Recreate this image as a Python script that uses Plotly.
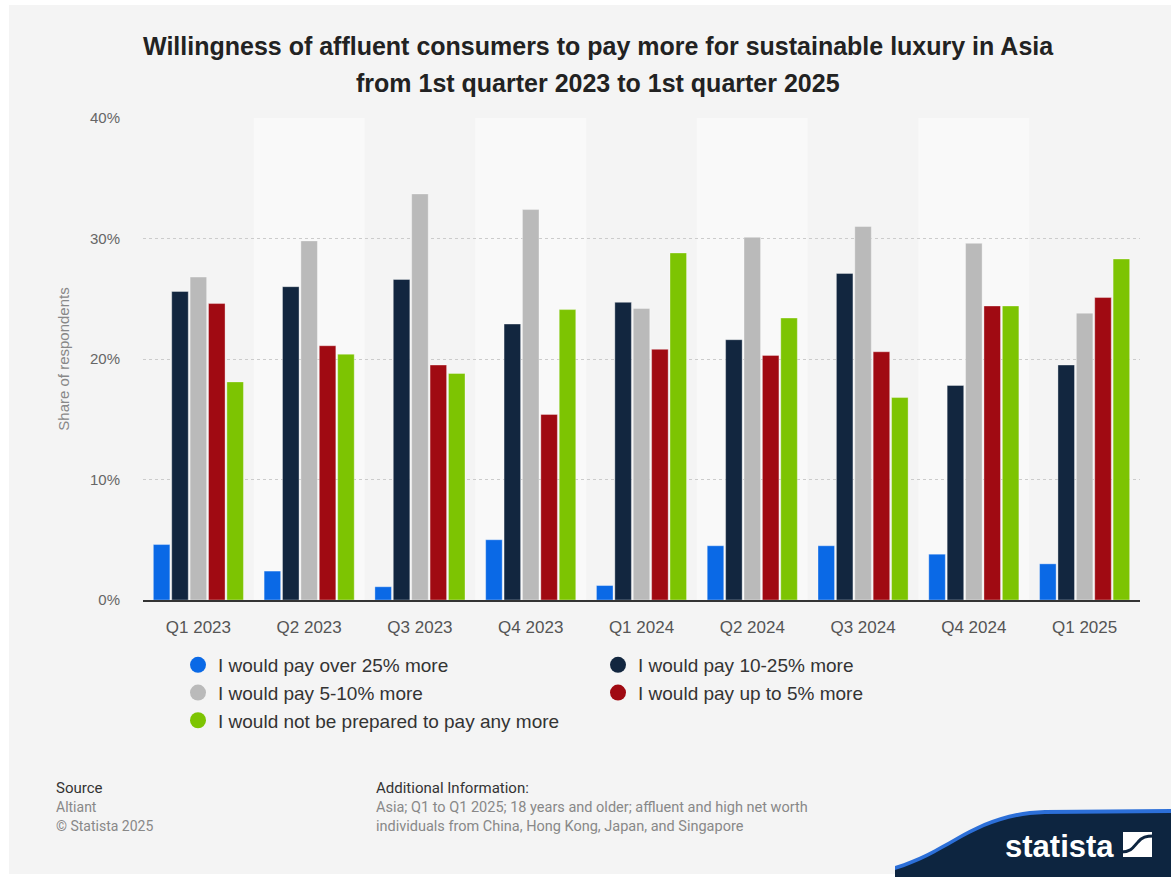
import plotly.graph_objects as go

categories = ["Q1 2023", "Q2 2023", "Q3 2023", "Q4 2023", "Q1 2024",
              "Q2 2024", "Q3 2024", "Q4 2024", "Q1 2025"]
series_names = ["I would pay over 25% more", "I would pay 10-25% more",
                "I would pay 5-10% more", "I would pay up to 5% more",
                "I would not be prepared to pay any more"]
over_25 = [4.6, 2.4, 1.1, 5.0, 1.2, 4.5, 4.5, 3.8, 3.0]
pay_10_25 = [25.6, 26.0, 26.6, 22.9, 24.7, 21.6, 27.1, 17.8, 19.5]
pay_5_10 = [26.8, 29.8, 33.7, 32.4, 24.2, 30.1, 31.0, 29.6, 23.8]
up_to_5 = [24.6, 21.1, 19.5, 15.4, 20.8, 20.3, 20.6, 24.4, 25.1]
no_more = [18.1, 20.4, 18.8, 24.1, 28.8, 23.4, 16.8, 24.4, 28.3]
colors = ["#0a69e6", "#12263f", "#bababa", "#a00a12", "#7dc402"]
y_ticks = [0, 10, 20, 30, 40]
y_tick_labels = ["0%", "10%", "20%", "30%", "40%"]

W, H = 1171, 877
L, R, T, B = 143, 1140, 118, 600


def px(x):
    return (x - L) / (R - L)


def py(y):
    return (B - y) / (B - T)


fig = go.Figure()
for name, vals, col in zip(series_names,
                           [over_25, pay_10_25, pay_5_10, up_to_5, no_more],
                           colors):
    fig.add_trace(go.Bar(x=categories, y=vals, name=name, marker_color=col,
                         marker_line=dict(color="rgba(255,255,255,0.35)", width=1),
                         showlegend=False))
for name, col in zip(series_names, colors):
    fig.add_trace(go.Scatter(x=[None], y=[None], mode="markers", name=name,
                             marker=dict(color=col, size=16, symbol="circle")))

shapes = []
# white frame + gray background
shapes.append(dict(type="rect", xref="paper", yref="paper", layer="below",
                   x0=px(9), x1=px(W), y0=py(874), y1=py(5),
                   fillcolor="#f4f4f4", line_width=0))
# alternating bands
for i in range(len(categories)):
    if i % 2 == 1:
        shapes.append(dict(type="rect", xref="x", yref="paper", layer="below",
                           x0=i - 0.5, x1=i + 0.5, y0=0, y1=1,
                           fillcolor="#f9f9f9", line_width=0))


def curve(offset):
    return (f"M {px(895)},{py(880)} L {px(895)},{py(866 + offset)} "
            f"C {px(950)},{py(850 + offset)} {px(975)},{py(812 + offset)} {px(1045)},{py(810 + offset)} "
            f"L {px(1175)},{py(809 + offset)} L {px(1175)},{py(880)} Z")


shapes.append(dict(type="path", xref="paper", yref="paper", layer="above",
                   path=curve(0), fillcolor="#2c6fd8", line_width=0))
shapes.append(dict(type="path", xref="paper", yref="paper", layer="above",
                   path=curve(4), fillcolor="#0d2540", line_width=0))
# statista icon
shapes.append(dict(type="rect", xref="paper", yref="paper", layer="above",
                   x0=px(1123), x1=px(1152), y0=py(857), y1=py(832),
                   fillcolor="#ffffff", line_width=0))
shapes.append(dict(type="path", xref="paper", yref="paper", layer="above",
                   path=(f"M {px(1121)},{py(852)} C {px(1132)},{py(852)} {px(1134)},{py(846)} {px(1138)},{py(842)} "
                         f"C {px(1142)},{py(837)} {px(1146)},{py(836)} {px(1154)},{py(836)}"),
                   line=dict(color="#0d2540", width=3)))

annotations = [
    dict(text="<b>Willingness of affluent consumers to pay more for sustainable luxury in Asia</b>",
         x=px(598), y=py(46), xref="paper", yref="paper", showarrow=False,
         font=dict(size=25, color="#222222", family="Liberation Sans"),
         xanchor="center", yanchor="middle"),
    dict(text="<b>from 1st quarter 2023 to 1st quarter 2025</b>",
         x=px(598), y=py(83), xref="paper", yref="paper", showarrow=False,
         font=dict(size=25, color="#222222", family="Liberation Sans"),
         xanchor="center", yanchor="middle"),
    dict(text="Source", x=px(54), y=py(788), xref="paper", yref="paper",
         showarrow=False, xanchor="left", yanchor="middle",
         font=dict(size=15, color="#333333", family="Roboto")),
    dict(text="Altiant", x=px(54), y=py(807), xref="paper", yref="paper",
         showarrow=False, xanchor="left", yanchor="middle",
         font=dict(size=14, color="#888888", family="Roboto")),
    dict(text="© Statista 2025", x=px(54), y=py(826), xref="paper", yref="paper",
         showarrow=False, xanchor="left", yanchor="middle",
         font=dict(size=14, color="#888888", family="Roboto")),
    dict(text="Additional Information:", x=px(374), y=py(788), xref="paper", yref="paper",
         showarrow=False, xanchor="left", yanchor="middle",
         font=dict(size=15, color="#333333", family="Roboto")),
    dict(text="Asia; Q1 to Q1 2025; 18 years and older; affluent and high net worth",
         x=px(374), y=py(807), xref="paper", yref="paper",
         showarrow=False, xanchor="left", yanchor="middle",
         font=dict(size=14.5, color="#888888", family="Roboto")),
    dict(text="individuals from China, Hong Kong, Japan, and Singapore",
         x=px(374), y=py(826), xref="paper", yref="paper",
         showarrow=False, xanchor="left", yanchor="middle",
         font=dict(size=14.5, color="#888888", family="Roboto")),
    dict(text="<b>statista</b>", x=px(1059), y=py(846), xref="paper", yref="paper",
         showarrow=False, xanchor="center", yanchor="middle",
         font=dict(size=31, color="#ffffff", family="Liberation Sans")),
]

fig.update_layout(
    width=W, height=H,
    margin=dict(l=L, r=W - R, t=T, b=H - B, pad=0, autoexpand=False),
    paper_bgcolor="#ffffff", plot_bgcolor="rgba(0,0,0,0)",
    barmode="group", bargap=0.17, bargroupgap=0.1,
    font=dict(family="Liberation Sans", color="#666666"),
    shapes=shapes, annotations=annotations,
    legend=dict(orientation="h", xref="container", yref="container",
                x=178 / W, y=1 - 646 / H, xanchor="left", yanchor="top",
                entrywidth=375, entrywidthmode="pixels", itemwidth=30,
                font=dict(size=19, color="#333333", family="Liberation Sans"),
                bgcolor="rgba(0,0,0,0)", tracegroupgap=0),
    xaxis=dict(showgrid=False, showline=True, linecolor="#333333", linewidth=2,
               ticks="", tickfont=dict(size=17, color="#555555"),
               ticklabelstandoff=11, fixedrange=True, automargin=False),
    yaxis=dict(range=[0, 40], tickvals=y_ticks, ticktext=y_tick_labels,
               showgrid=True, gridcolor="#cccccc", griddash="dot", gridwidth=1,
               zeroline=False, showline=False, ticks="",
               tickfont=dict(size=15, color="#666666"), ticklabelstandoff=22,
               title=dict(text="Share of respondents", standoff=16,
                          font=dict(size=15, color="#888888")),
               fixedrange=True, automargin=False),
)

fig.write_html("out.html")
